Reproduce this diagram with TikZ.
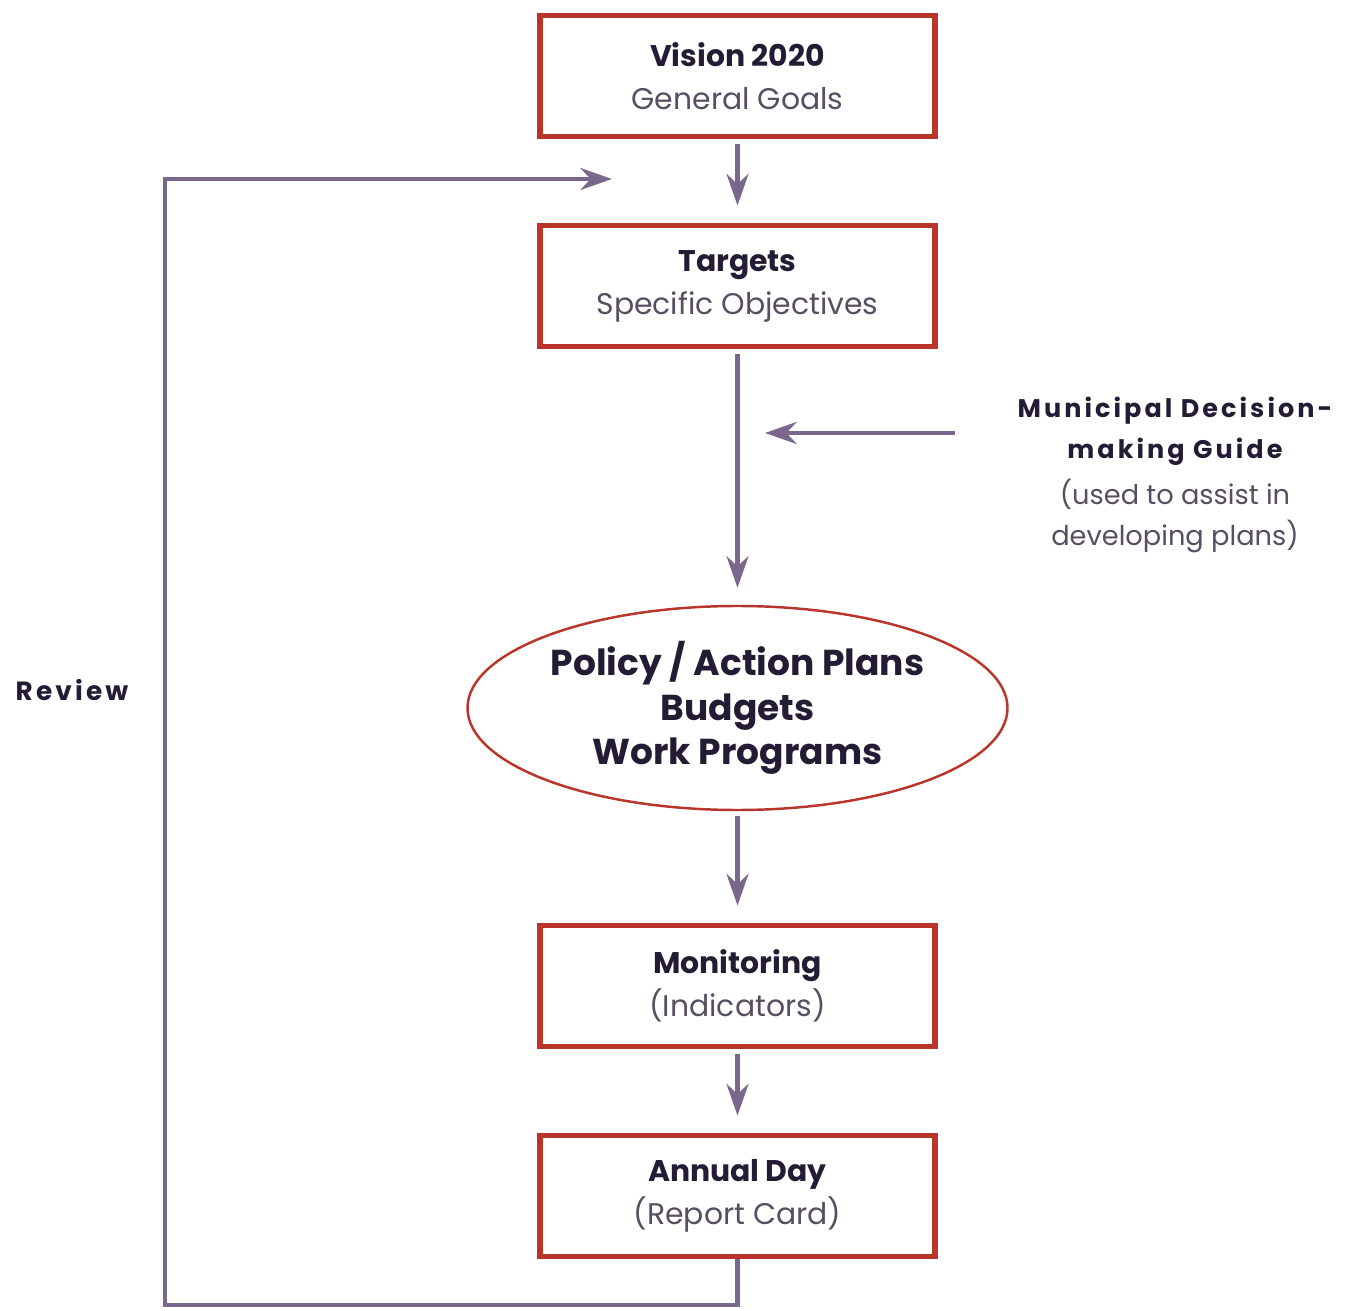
\documentclass[tikz,border=0pt]{standalone}
\usepackage{fontspec}
\setmainfont{Poppins}
\newfontfamily\widefont[LetterSpace=12]{Poppins}
\usepackage{tikz}
\usetikzlibrary{shapes.geometric,arrows.meta}

\definecolor{boxred}{RGB}{185,52,42}
\definecolor{flowgray}{RGB}{122,104,140}
\definecolor{inkdark}{RGB}{35,28,52}
\definecolor{inklight}{RGB}{88,78,98}

\begin{document}
\begin{tikzpicture}
[>={Stealth[length=18pt,width=12.5pt]},
box/.style={draw=boxred,line width=3.4pt,minimum width=7.9cm,minimum height=2.42cm,align=center,inner sep=0pt,font=\fontsize{17}{24.5}\selectfont,text=inkdark},
plan/.style={draw=boxred,line width=1.4pt,ellipse,minimum width=10.8cm,minimum height=4.08cm,align=center,inner sep=0pt,font=\bfseries\fontsize{20.5}{25.5}\selectfont,text=inkdark},
flow/.style={->,draw=flowgray,line width=2.5pt,shorten <=0.1cm,shorten >=0.34cm},
]
\useasboundingbox (0,0) rectangle (27.14,26.2);

%Column position
\def\Cx{14.75}

%Boxes
\node (vision) at (\Cx,24.68)[box] {\textbf{Vision 2020}\\ \textcolor{inklight}{General Goals}};
\node (targets) at (\Cx,20.48)[box] {\textbf{Targets}\\ \textcolor{inklight}{Specific Objectives}};
\node (plans) at (\Cx,12.04)[plan] {Policy / Action Plans\\ Budgets\\ Work Programs};
\node (monitor) at (\Cx,6.48)[box] {\textbf{Monitoring}\\ \textcolor{inklight}{(Indicators)}};
\node (annual) at (\Cx,2.28)[box] {\textbf{Annual Day}\\ \textcolor{inklight}{(Report Card)}};

%Side labels
\node (guide) at (23.5,16.7)[align=center,text=inkdark,font=\fontsize{14.5}{23}\selectfont] {{\widefont\bfseries Municipal Decision-}\\ {\widefont\bfseries making Guide}\\[3.5pt] \textcolor{inklight}{\fontsize{15.5}{23}\selectfont(used to assist in}\\ \textcolor{inklight}{\fontsize{15.5}{23}\selectfont developing plans)}};
\node (review) at (1.44,12.4)[text=inkdark,font=\fontsize{15}{18}\selectfont] {\widefont\bfseries Review};

%Free ends
\coordinate (guidetail) at (19.1,17.54);
\coordinate (guidetip) at (15.3,17.54);
\coordinate (loopcorner) at (3.3,0.1);
\coordinate (looptip) at (12.24,22.62);

%Drawing arrows
\draw[flow] (vision) -- (targets);
\draw[flow] (targets) -- (plans);
\draw[flow] (plans) -- (monitor);
\draw[flow] (monitor) -- (annual);
\draw[flow,shorten <=0pt,shorten >=0pt] (guidetail) -- (guidetip);
\draw[flow,shorten <=0pt,shorten >=0pt] (annual.south) |- (loopcorner) |- (looptip);

\end{tikzpicture}
\end{document}
